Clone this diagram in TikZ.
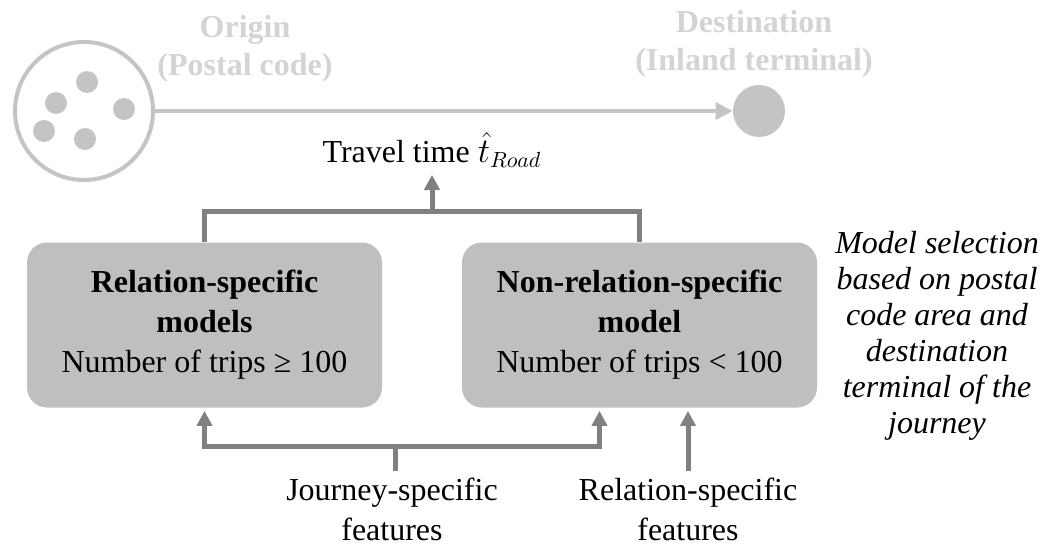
\documentclass[tikz,border=0pt]{standalone}
\usepackage{fontspec}
\setmainfont{Liberation Serif}
\usetikzlibrary{arrows.meta,positioning}
\definecolor{boxgray}{RGB}{191,191,191}
\definecolor{linkgray}{RGB}{128,128,128}
\definecolor{palegray}{RGB}{196,196,196}
\definecolor{labelgray}{RGB}{212,212,212}

\begin{document}
\begin{tikzpicture}[x=0.5pt,y=-0.5pt,>={Triangle[length=7.5pt,width=7.5pt]},
   model/.style={fill=boxgray,rounded corners=10pt,minimum width=177.5pt,minimum height=82.5pt,align=center,font=\fontsize{16}{20}\selectfont},
   txt/.style={align=center,font=\fontsize{16}{20}\selectfont},
   place/.style={align=center,text=labelgray,font=\fontsize{16}{19}\selectfont\bfseries},
   link/.style={draw=linkgray,line width=2.5pt}]
   \useasboundingbox (0,0) rectangle (1046,546);

   % origin and destination
   \node[circle,draw=palegray,line width=2pt,minimum size=69pt] (orig) at (84,111) {};
   \foreach \p in {(87,82),(56,103),(124,109),(44,131),(85,139)}
      \fill[palegray] \p circle (5.5pt);
   \node[circle,fill=palegray,minimum size=26pt,inner sep=0pt] (dest) at (759,111) {};
   \node[place] (origlbl) at (245,49) {Origin\\(Postal code)};
   \node[place] (destlbl) at (754,44) {Destination\\(Inland terminal)};
   \draw[draw=palegray,line width=2pt,-{Triangle[length=8.5pt,width=8.5pt]}] (orig) -- (dest);

   % models
   \node[model] (rel)    at (204.5,325) {\textbf{Relation-specific}\\\textbf{models}\\Number of trips ≥ 100};
   \node[model] (nonrel) at (639.5,325) {\textbf{Non-relation-specific}\\\textbf{model}\\Number of trips < 100};
   \node[txt] (travel) at (432,150) {Travel time $\hat{t}_{Road}$};
   \node[txt] (journey) at (392,509) {Journey-specific\\features};
   \node[txt] (relfeat) at (688,509) {Relation-specific\\features};
   \node[align=center,font=\fontsize{16}{18}\selectfont\itshape] (note) at (937,336)
      {Model selection\\based on postal\\code area and\\destination\\terminal of the\\journey};

   \coordinate (tjoin) at (432,211);
   \coordinate (jjoin) at (395,446);

   \draw[link] (rel.north) |- (tjoin) -| (nonrel.north);
   \draw[link,->] (tjoin) -- (travel);
   \draw[link] (journey.north -| jjoin) -- (jjoin);
   \draw[link,->,shorten >=1.5pt] (jjoin) -| (rel.south);
   \draw[link,->,shorten >=1.5pt] (jjoin) -| ([xshift=-20pt]nonrel.south);
   \draw[link,->,shorten >=1.5pt] (relfeat) -- (relfeat |- nonrel.south);
\end{tikzpicture}
\end{document}
